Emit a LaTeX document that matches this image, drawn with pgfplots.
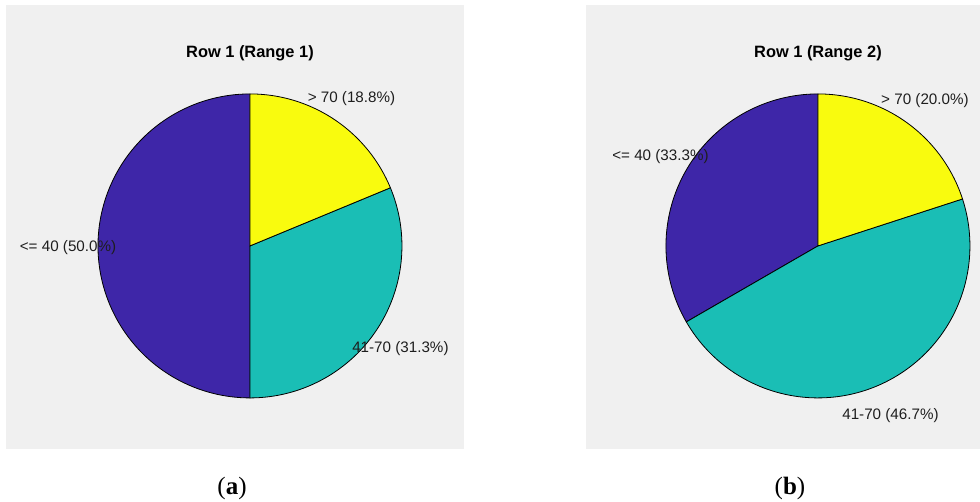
\documentclass[border=0pt]{standalone}
\usepackage{pgfplots}
\pgfplotsset{compat=1.18}
\usepackage{fontspec}
\setmainfont{Liberation Sans}
\newfontfamily\seriffont{Liberation Serif}
\definecolor{pblue}{RGB}{62,38,168}
\definecolor{pteal}{RGB}{26,190,181}
\definecolor{pyellow}{RGB}{249,251,14}
\definecolor{panel}{RGB}{240,240,240}
\definecolor{txt}{RGB}{30,30,30}
\pgfplotsset{
  piepanel/.style={x=76pt,y=76pt, axis lines=box, axis line style={draw=none},
    xtick=\empty, ytick=\empty, ymin=-1.336, ymax=1.586,
    axis background/.style={fill=panel}, clip=false, anchor=south west},
  wedge/.style={draw=black, line width=0.4pt, data cs=polar, samples=100, mark=none}
}
\tikzset{
  lab/.style={font=\fontsize{7.6}{9}\selectfont, text=txt, inner sep=0pt},
  ttl/.style={font=\fontsize{8.2}{10}\selectfont\bfseries, text=black, inner sep=0pt}
}
\begin{document}
\begin{tikzpicture}
\useasboundingbox (0,0) rectangle (490pt,251pt);
% (a) Range 1: <=40 50.0%, 41-70 31.3%, >70 18.8%
\begin{axis}[piepanel, xmin=-1.605, xmax=1.408, at={(3pt,26.5pt)}]
\addplot[wedge, fill=pblue, domain=90:270] ({x},{1}) -- (axis cs:0,0) -- cycle;
\addplot[wedge, fill=pteal, domain=270:382.5] ({x},{1}) -- (axis cs:0,0) -- cycle;
\addplot[wedge, fill=pyellow, domain=382.5:450] ({x},{1}) -- (axis cs:0,0) -- cycle;
\node[ttl] at (axis cs:0,1.27) {Row 1 (Range 1)};
\node[lab] at (axis cs:0.668,0.967) {> 70 (18.8\%)};
\node[lab] at (axis cs:0.990,-0.678) {41-70 (31.3\%)};
\node[lab] at (axis cs:-1.197,-0.013) {<= 40 (50.0\%)};
\end{axis}
% (b) Range 2: <=40 33.3%, 41-70 46.7%, >70 20.0%
\begin{axis}[piepanel, xmin=-1.526, xmax=1.066, at={(293pt,26.5pt)}]
\addplot[wedge, fill=pblue, domain=90:210] ({x},{1}) -- (axis cs:0,0) -- cycle;
\addplot[wedge, fill=pteal, domain=210:378] ({x},{1}) -- (axis cs:0,0) -- cycle;
\addplot[wedge, fill=pyellow, domain=378:450] ({x},{1}) -- (axis cs:0,0) -- cycle;
\node[ttl] at (axis cs:0,1.27) {Row 1 (Range 2)};
\node[lab] at (axis cs:0.704,0.954) {> 70 (20.0\%)};
\node[lab] at (axis cs:-1.036,0.586) {<= 40 (33.3\%)};
\node[lab] at (axis cs:0.477,-1.118) {41-70 (46.7\%)};
\end{axis}
\node[font=\fontsize{12.5}{14}\selectfont\seriffont] at (116pt,7pt) {(\textbf{a})};
\node[font=\fontsize{12.5}{14}\selectfont\seriffont] at (395pt,7pt) {(\textbf{b})};
\end{tikzpicture}
\end{document}
